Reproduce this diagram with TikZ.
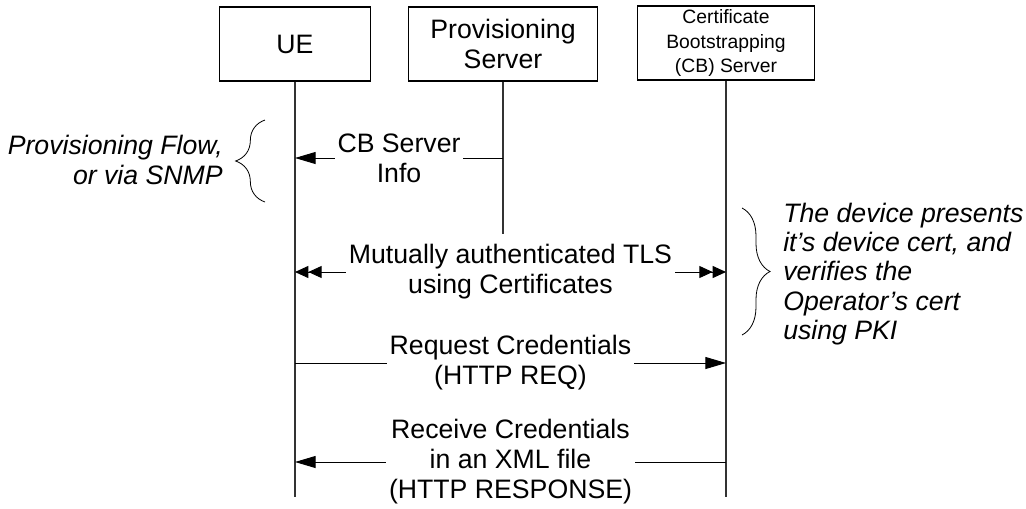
\documentclass[tikz,border=0pt]{standalone}
\usepackage{fontspec}
\setmainfont{Liberation Sans}
\usetikzlibrary{arrows.meta,positioning,decorations.pathreplacing}

\begin{document}
\begin{tikzpicture}[x=0.75pt,y=-0.75pt,
	every node/.style={font=\fontsize{20}{22.5}\selectfont},
	actor/.style={draw, line width=0.8pt, align=center, minimum height=55.5pt, inner sep=2pt},
	life/.style={line width=0.9pt, black!80},
	msg/.style={line width=0.7pt, -{Triangle[length=15.5pt,width=9pt]}},
	tls/.style={line width=0.7pt, {Triangle[length=10pt,width=9pt]Triangle[length=10pt,width=9pt]}-{Triangle[length=10pt,width=9pt]Triangle[length=10pt,width=9pt]}},
	lbl/.style={fill=white, align=center, inner xsep=2pt, inner ysep=0pt},
	note/.style={font=\fontsize{20}{22}\selectfont\itshape, inner sep=0pt},
	bracket/.style={decorate, line width=0.6pt}]
	\useasboundingbox (0,0) rectangle (1026,508);
	% the three parties
	\node[actor, minimum width=113pt] (ue) at (295,44) {UE};
	\node[actor, minimum width=142pt] (prov) at (503,44) {Provisioning\\Server};
	\node[actor, minimum width=133pt, font=\fontsize{14.5}{18.5}\selectfont] (cb) at (726,43) {Certificate\\Bootstrapping\\(CB) Server};
	% lifelines
	\coordinate (ue-end) at (295,497);
	\coordinate (prov-end) at (503,234);
	\coordinate (cb-end) at (726,497);
	\draw[life] (ue) -- (ue-end);
	\draw[life] (prov) -- (prov-end);
	\draw[life] (cb) -- (cb-end);
	% message levels
	\coordinate (y-info) at (0,158);
	\coordinate (y-tls) at (0,272);
	\coordinate (y-req) at (0,363);
	\coordinate (y-resp) at (0,462);
	\draw[msg] (prov |- y-info) -- node[lbl] {CB Server\\Info} (ue |- y-info);
	\draw[tls] (ue |- y-tls) -- node[lbl] {Mutually authenticated TLS\\using Certificates} (cb |- y-tls);
	\draw[msg] (ue |- y-req) -- node[lbl] {Request Credentials\\(HTTP REQ)} (cb |- y-req);
	\draw[msg] (cb |- y-resp) -- node[lbl] {Receive Credentials\\in an XML file\\(HTTP RESPONSE)} (ue |- y-resp);
	% side notes
	\coordinate (bl-top) at (265,120);
	\coordinate (bl-bot) at (265,202);
	\draw[bracket, decoration={brace, amplitude=22pt}] (bl-bot) -- (bl-top);
	\node[note, anchor=east, align=right] (flow) at (223,160) {Provisioning Flow,\\or via SNMP};
	\coordinate (br-top) at (742,208);
	\coordinate (br-bot) at (742,335);
	\draw[bracket, decoration={brace, amplitude=21pt}] (br-top) -- (br-bot);
	\node[note, anchor=west, align=left] (pki) at (783,274) {The device presents\\it’s device cert, and\\verifies the\\Operator’s cert\\using PKI};
\end{tikzpicture}
\end{document}
